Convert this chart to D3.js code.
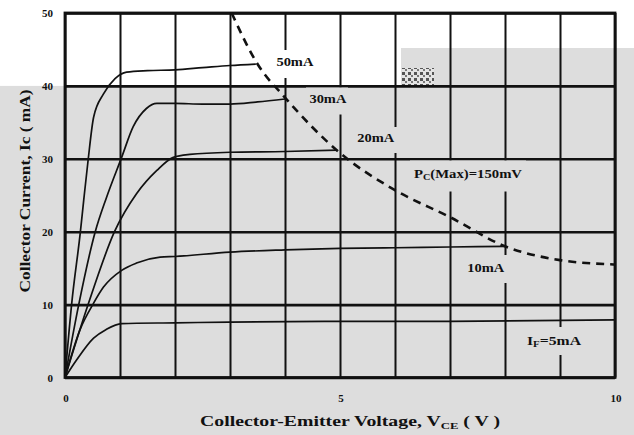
<!DOCTYPE html>
<html>
<head>
<meta charset="utf-8">
<script src="https://cdn.jsdelivr.net/npm/d3@7/dist/d3.min.js"></script>
<style>
  html, body { margin: 0; padding: 0; background: #dddddd; }
  svg { display: block; }
  text { font-family: "Liberation Serif", "DejaVu Serif", serif; font-weight: bold; fill: #111; }
</style>
</head>
<body>
<svg id="chart" width="634" height="435"></svg>
<script>
// ---------------- data ----------------
const xTicks = [0, 1, 2, 3, 4, 5, 6, 7, 8, 9, 10];
const xTickLabels = ["0", "", "", "", "", "5", "", "", "", "", "10"];
const yTicks = [0, 10, 20, 30, 40, 50];
const yTickLabels = ["0", "10", "20", "30", "40", "50"];

// Ib = 50 mA
const vce50 = [0, 0.12, 0.28, 0.34, 0.42, 0.52, 0.70, 0.91, 1.12, 1.5, 2.0, 2.5, 3.0, 3.47];
const ic50  = [0, 10, 20, 24.3, 29.8, 35.7, 38.9, 41.0, 41.9, 42.1, 42.2, 42.5, 42.8, 43.0];
// Ib = 30 mA
const vce30 = [0, 0.25, 0.55, 0.75, 1.03, 1.24, 1.48, 1.67, 2.0, 2.5, 3.0, 3.5, 4.0];
const ic30  = [0, 10, 20, 24.6, 30.2, 34.4, 36.9, 37.6, 37.6, 37.5, 37.5, 37.8, 38.2];
// Ib = 20 mA
const vce20 = [0, 0.42, 0.9, 1.3, 1.67, 1.97, 2.27, 3.0, 4.0, 4.95];
const ic20  = [0, 10, 20, 25.2, 28.4, 30.2, 30.6, 30.9, 31.0, 31.2];
// Ib = 10 mA
const vce10 = [0, 0.27, 0.52, 0.70, 1.03, 1.3, 1.73, 2.0, 3.0, 4.0, 5.0, 6.0, 7.0, 8.0];
const ic10  = [0, 6.5, 10.2, 12.4, 14.7, 15.7, 16.5, 16.6, 17.2, 17.5, 17.7, 17.8, 17.9, 18.0];
// If = 5 mA
const vce5 = [0, 0.21, 0.52, 0.75, 1.03, 2.0, 3.0, 5.0, 7.0, 10.0];
const ic5  = [0, 2.4, 5.4, 6.6, 7.4, 7.5, 7.6, 7.7, 7.7, 7.9];
// Pc(max) = 150 mW limit (dashed)
const vcePc = [3.03, 3.5, 4.0, 5.0, 6.0, 7.0, 8.0, 9.0, 10.0];
const icPc  = [50, 43.0, 38.4, 30.8, 25.7, 22.0, 18.0, 16.1, 15.5];

const curveLabels = ["50mA", "30mA", "20mA", "10mA"];
const curveLabelV = [4.18, 4.78, 5.65, 7.65];   // label centre (V)
const curveLabelI = [42.7, 37.6, 32.3, 14.45];  // label baseline (mA)

// ---------------- drawing ----------------
const svg = d3.select("#chart");
const W = 634, H = 435;
const x = d3.scaleLinear().domain([0, 10]).range([65, 615]);
const y = d3.scaleLinear().domain([0, 50]).range([377.5, 13]);
const GRAY = "#dddddd";

// background (gray with white upper band, as in the scan)
svg.append("rect").attr("x", 0).attr("y", 0).attr("width", W).attr("height", H).attr("fill", GRAY);
svg.append("rect").attr("x", 0).attr("y", 0).attr("width", 401).attr("height", y(40)).attr("fill", "#ffffff");
svg.append("rect").attr("x", 401).attr("y", 0).attr("width", W - 401).attr("height", 48).attr("fill", "#ffffff");

// scan artifact patch
const defs = svg.append("defs");
const pat = defs.append("pattern").attr("id", "chk").attr("width", 6).attr("height", 6).attr("patternUnits", "userSpaceOnUse");
pat.append("rect").attr("width", 6).attr("height", 6).attr("fill", "#e4e4e4");
pat.append("rect").attr("width", 3).attr("height", 3).attr("fill", "#555");
pat.append("rect").attr("x", 3).attr("y", 3).attr("width", 2).attr("height", 2).attr("fill", "#777");
svg.append("rect").attr("x", 402).attr("y", 68).attr("width", 32).attr("height", 17).attr("fill", "url(#chk)");

// grid via axes
const gx = svg.append("g").attr("transform", `translate(0,${y(0)})`)
  .call(d3.axisBottom(x).tickValues(xTicks).tickSize(-(y(0) - y(50))).tickFormat(""));
gx.select(".domain").remove();
gx.selectAll(".tick line").attr("stroke", "#111").attr("stroke-width", 2);

const gy = svg.append("g").attr("transform", `translate(${x(0)},0)`)
  .call(d3.axisLeft(y).tickValues(yTicks).tickSize(-(x(10) - x(0))).tickFormat(""));
gy.select(".domain").remove();
gy.selectAll(".tick line").attr("stroke", "#111").attr("stroke-width", 2.6);

// frame
svg.append("rect").attr("x", x(0)).attr("y", y(50)).attr("width", x(10) - x(0)).attr("height", y(0) - y(50))
  .attr("fill", "none").attr("stroke", "#111").attr("stroke-width", 2.8);

// label masks (labels break the vertical grid lines)
const masks = [
  [275, 50, 41, 28, "#ffffff"],
  [306, 87.5, 42, 27, GRAY],
  [355, 127, 43, 26, GRAY],
  [410, 160.5, 116, 31, GRAY],
  [465, 255, 43, 28, GRAY],
  [524, 327, 60, 28, GRAY]
];
svg.selectAll("rect.mask").data(masks).enter().append("rect").attr("class", "mask")
  .attr("x", d => d[0]).attr("y", d => d[1]).attr("width", d => d[2]).attr("height", d => d[3])
  .attr("fill", d => d[4]);

// curves
const line = d3.line().x(d => x(d[0])).y(d => y(d[1])).curve(d3.curveMonotoneX);
const series = [[vce50, ic50], [vce30, ic30], [vce20, ic20], [vce10, ic10], [vce5, ic5]];
series.forEach(([vs, is]) => {
  svg.append("path").datum(vs.map((v, i) => [v, is[i]]))
    .attr("d", line).attr("fill", "none").attr("stroke", "#111").attr("stroke-width", 1.7);
});
svg.append("path").datum(vcePc.map((v, i) => [v, icPc[i]]))
  .attr("d", line).attr("fill", "none").attr("stroke", "#111").attr("stroke-width", 2.6)
  .attr("stroke-dasharray", "8,6");

// curve labels
curveLabels.forEach((t, i) => {
  svg.append("text").attr("x", x(curveLabelV[i])).attr("y", y(curveLabelI[i]))
    .attr("text-anchor", "middle").attr("font-size", 11.5)
    .attr("textLength", 37).attr("lengthAdjust", "spacingAndGlyphs").text(t);
});
// Pc(max) label
const pc = svg.append("text").attr("x", 414).attr("y", 178).attr("font-size", 11.5)
  .attr("textLength", 108).attr("lengthAdjust", "spacingAndGlyphs");
pc.append("tspan").text("P");
pc.append("tspan").attr("font-size", 8).attr("dy", 2).text("C");
pc.append("tspan").attr("dy", -2).text("(Max)=150mV");
// If label
const ifl = svg.append("text").attr("x", 527).attr("y", 345).attr("font-size", 11.5)
  .attr("textLength", 54).attr("lengthAdjust", "spacingAndGlyphs");
ifl.append("tspan").text("I");
ifl.append("tspan").attr("font-size", 8).attr("dy", 2).text("F");
ifl.append("tspan").attr("dy", -2).text("=5mA");

// tick labels
svg.selectAll("text.yt").data(yTicks).enter().append("text").attr("class", "yt")
  .attr("x", 53).attr("y", d => y(d) + 4).attr("text-anchor", "end").attr("font-size", 11)
  .text((d, i) => yTickLabels[i]);
svg.selectAll("text.xt").data(xTicks).enter().append("text").attr("class", "xt")
  .attr("x", d => x(d) + 1).attr("y", 402).attr("text-anchor", "middle").attr("font-size", 11)
  .text((d, i) => xTickLabels[i]);

// axis titles
const xt = svg.append("text").attr("x", 200).attr("y", 426).attr("font-size", 14)
  .attr("textLength", 300).attr("lengthAdjust", "spacingAndGlyphs");
xt.append("tspan").text("Collector-Emitter Voltage, V");
xt.append("tspan").attr("font-size", 9).attr("dy", 3).text("CE");
xt.append("tspan").attr("dy", -3).text(" ( V )");

svg.append("text").attr("transform", "translate(30,191) rotate(-90)")
  .attr("text-anchor", "middle").attr("font-size", 14)
  .attr("textLength", 203).attr("lengthAdjust", "spacingAndGlyphs")
  .text("Collector Current, Ic ( mA)");
</script>
</body>
</html>
